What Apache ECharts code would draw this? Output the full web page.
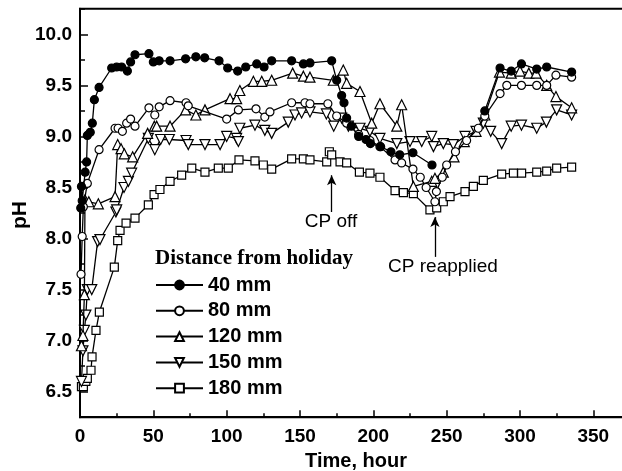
<!DOCTYPE html>
<html><head><meta charset="utf-8">
<script src="https://cdn.jsdelivr.net/npm/echarts@6/dist/echarts.min.js"></script>
<style>html,body{margin:0;padding:0;background:#fff}#c{width:622px;height:471px}</style>
</head><body><div id="c"></div>
<script>
// ---- data ----
const seriesNames = ['40 mm', '80 mm', '120 mm', '150 mm', '180 mm'];
const hours40 = [0.5,1,1.5,3.5,4.5,5,7,8.4,9.8,13,21.6,25,28.4,32.3,34.5,37.5,47,50,54,61.4,72,79,85,94.8,100.7,107.5,113,120.5,125.5,130.7,144.3,152.3,156.8,171.6,175,178.4,180,181.8,185,190,195,198,205,212,218,227,240,258,276,286.4,294,301,311.4,318.2,335.2];
const ph40 = [8.30,8.51,8.37,8.65,8.75,9.01,9.04,9.13,9.36,9.48,9.67,9.68,9.68,9.64,9.73,9.80,9.81,9.73,9.74,9.74,9.76,9.78,9.77,9.74,9.67,9.64,9.68,9.71,9.68,9.74,9.74,9.71,9.72,9.74,9.55,9.40,9.33,9.18,9.10,9.00,8.97,8.93,8.90,8.85,8.82,8.84,8.72,null,9.25,9.67,9.64,9.71,9.66,9.68,9.63];
const hours80 = [0.7,1.5,2.3,5,13,23.9,26,28.9,31.8,34.5,37.5,47,51,54,61.4,72.3,73.8,100,108,120,126,129.5,144.3,153.4,156.8,169,175,181.8,190,197.7,204.5,214.8,219.3,227,232,236,242,243,247,250,256,263.6,271.6,276,286.4,291,301,311.4,318.2,324.5,335.2];
const ph80 = [7.65,8.02,8.31,8.54,8.87,9.08,9.08,9.05,9.13,9.17,9.10,9.28,9.21,9.29,9.35,9.33,9.30,9.17,9.26,9.27,9.19,9.24,9.33,9.33,9.32,9.32,9.20,9.13,9.02,8.96,8.90,8.77,8.74,8.68,8.60,8.50,8.36,8.46,8.60,8.72,8.85,8.96,9.08,9.20,9.42,9.50,9.50,9.50,9.50,9.60,9.58];
const hours120 = [1,2,3,3.4,6,12.5,23.9,25.7,28,30.2,35.9,46.1,50.7,52.3,61.4,72,79,85.2,102.3,106.8,109,118.2,123.9,130.7,145,152.3,156.8,172.7,179.5,181.8,190.9,198.9,204.5,216,219.3,227.3,239.8,242,247.7,255,262,270,276,286,294,300,306,311,318.2,324.5,335.2];
const ph120 = [6.95,7.05,7.45,8.38,8.36,8.34,8.41,8.92,8.88,8.83,8.80,9.03,9.10,9.10,9.10,9.26,9.21,9.26,9.37,9.37,9.45,9.54,9.54,9.55,9.62,9.59,9.58,9.55,9.65,9.52,9.44,9.13,9.32,9.10,9.31,8.51,8.56,8.59,8.65,8.80,8.95,9.05,9.21,9.63,9.62,9.64,9.62,9.62,9.50,9.39,9.28];
const hours150 = [1,2,3,4,5,8,12,13.6,24.5,25,30,33,35.2,46.6,51,55,60.9,72.3,73.8,85.2,95.5,100,106.8,108,109,119.3,126,130.7,142,146.6,151.1,156.8,168,173,178.4,183,190.9,197.7,204.5,216,225,233,239.8,241,247.7,254.5,262.5,270,275,280,287.5,294,301,311.4,318,325,335.2];
const ph150 = [6.60,6.90,7.10,7.25,7.50,7.50,7.97,7.99,8.26,8.28,8.50,8.56,8.64,8.98,8.87,8.97,8.97,8.96,8.92,8.92,8.92,9.00,8.98,8.95,9.08,9.11,9.06,9.03,9.14,9.21,9.23,9.24,9.22,9.10,9.18,9.10,9.08,9.05,8.98,8.93,8.95,8.95,9.00,8.90,8.93,8.92,9.00,9.05,9.13,9.05,8.93,9.10,9.11,9.08,9.14,9.26,9.21];
const hours180 = [1,2.3,4,5,7.5,8.2,10.9,13.2,23.4,25.7,27.3,31.4,37.5,46.6,50.5,54.5,61.4,69.3,76.2,85.2,94.3,101.1,108.4,119.3,125,130.7,144.3,152.3,156.8,168.2,170,171.6,177.3,181.8,190.5,197.7,204.5,214.8,220.5,227.3,238.6,243.2,247.7,252.3,262.5,268.2,275,287.5,295.5,301.1,311.4,318.2,325,335.2];
const ph180 = [6.55,6.55,6.60,6.63,6.71,6.84,7.10,7.28,7.72,7.98,8.08,8.15,8.20,8.33,8.43,8.48,8.56,8.62,8.69,8.65,8.69,8.69,8.77,8.76,8.72,8.68,8.78,8.78,8.77,8.75,8.85,8.82,8.75,8.74,8.65,8.64,8.60,8.47,8.45,8.44,8.28,8.30,8.36,8.41,8.46,8.51,8.57,8.63,8.64,8.64,8.65,8.66,8.69,8.70];
const xTicks = [0,50,100,150,200,250,300,350];
const yTicks = [6.5,7.0,7.5,8.0,8.5,9.0,9.5,10.0];
const annotations = [
  {text:'CP off', hour:171.6, tail:8.26, head:8.62},
  {text:'CP reapplied', hour:242, tail:7.82, head:8.21}
];
// ---- chart ----
function pairs(h, p){ return h.map((x,i)=>[x, p[i]===null ? '-' : p[i]]); }
const allHours = [hours40, hours80, hours120, hours150, hours180];
const allPh = [ph40, ph80, ph120, ph150, ph180];
const symbolDefs = [
  {symbol:'circle', size:8, fill:'#000', rotate:0},
  {symbol:'circle', size:8, fill:'#fff', rotate:0},
  {symbol:'triangle', size:10, fill:'#fff', rotate:0},
  {symbol:'triangle', size:10, fill:'#fff', rotate:180},
  {symbol:'rect', size:8, fill:'#fff', rotate:0}
];
const series = seriesNames.map((n,i)=>({
  name:n, type:'line', data:pairs(allHours[i], allPh[i]),
  symbol:symbolDefs[i].symbol, symbolSize:symbolDefs[i].size, symbolRotate:symbolDefs[i].rotate,
  showAllSymbol:true, connectNulls:false,
  lineStyle:{color:'#000', width:1.3},
  itemStyle:{color:symbolDefs[i].fill, borderColor:'#000', borderWidth:1.2},
  z: 10 - i
}));
series.push({
  type:'line', data:[], silent:true,
  markLine:{
    silent:true, symbol:['none','arrow'], symbolSize:[7,10],
    lineStyle:{color:'#000', width:1.3, type:'solid'}, label:{show:false},
    data: annotations.map(a=>[{coord:[a.hour,a.tail]},{coord:[a.hour,a.head]}])
  }
});
const chart = echarts.init(document.getElementById('c'), null, {renderer:'canvas'});
const font = '"Liberation Sans", Arial, sans-serif';
chart.setOption({
  animation:false,
  backgroundColor:'#fff',
  grid:{left:80, top:8.8, width:586.67, height:408.4, outerBoundsMode:'none', containLabel:false,
    show:true, borderColor:'#000', borderWidth:2, backgroundColor:'transparent'},
  legend:{
    data:seriesNames, orient:'vertical', left:155, top:275, padding:0,
    itemWidth:47, itemHeight:11, itemGap:5.8, selectedMode:false,
    textStyle:{fontSize:20, fontWeight:'bold', color:'#000', fontFamily:font, lineHeight:20}
  },
  xAxis:{
    type:'value', min:0, max:400, interval:50,
    axisLine:{lineStyle:{color:'#000', width:2}},
    axisTick:{inside:true, length:7, lineStyle:{color:'#000', width:1.5}},
    minorTick:{show:true, splitNumber:2, length:4, lineStyle:{color:'#000', width:1.5}},
    splitLine:{show:false},
    axisLabel:{fontSize:19, fontWeight:'bold', color:'#000', fontFamily:font, margin:10, showMaxLabel:false,
      formatter:v=> xTicks.includes(v) ? String(v) : ''}
  },
  yAxis:[{
    type:'value', min:6.25, max:10.25, splitNumber:8, offset:0,
    axisLine:{show:true, lineStyle:{color:'#000', width:2}},
    axisTick:{inside:true, length:8, lineStyle:{color:'#000', width:1.5}},
    splitLine:{show:false},
    axisLabel:{fontSize:19, fontWeight:'bold', color:'#000', fontFamily:font, margin:8, showMinLabel:false, showMaxLabel:false,
      formatter:v=>{ const t = yTicks.find(y=>Math.abs(y-v)<1e-6); return t===undefined ? '' : t.toFixed(1); }}
  },{
    type:'value', min:6.25, max:10.25, interval:0.25, position:'left', offset:0,
    axisLine:{show:false}, axisLabel:{show:false}, splitLine:{show:false},
    axisTick:{show:true, inside:true, length:5, lineStyle:{color:'#000', width:1.5}}
  }],
  graphic:[
    {type:'text', x:155, y:259, style:{text:'Distance from holiday', font:'bold 21px "Liberation Serif", "Times New Roman", serif', fill:'#000', verticalAlign:'middle'}},
    {type:'text', x:356, y:461, style:{text:'Time, hour', font:'bold 20px '+font, fill:'#000', align:'center', verticalAlign:'middle'}},
    {type:'text', x:20, y:215, rotation:Math.PI/2, style:{text:'pH', font:'bold 21px '+font, fill:'#000', align:'center', verticalAlign:'middle'}},
    {type:'text', x:331, y:222, style:{text:'CP off', font:'19px '+font, fill:'#000', align:'center', verticalAlign:'middle'}},
    {type:'text', x:443, y:267, style:{text:'CP reapplied', font:'19px '+font, fill:'#000', align:'center', verticalAlign:'middle'}}
  ],
  series:series
});
</script></body></html>
